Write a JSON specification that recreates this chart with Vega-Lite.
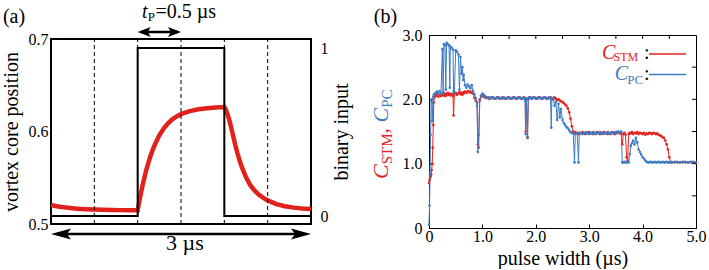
{
  "$schema": "https://vega.github.io/schema/vega-lite/v6.json",
  "padding": {"left": 0, "top": 1, "right": 0, "bottom": 0},
  "spacing": 118,
  "bounds": "flush",
  "center": true,
  "config": {
    "font": "Liberation Serif",
    "view": {"stroke": "black", "strokeWidth": 1},
    "axis": {"labelFont": "Liberation Serif", "labelFontSize": 16, "labelColor": "black", "titleFont": "Liberation Serif", "titleFontSize": 20, "titleFontWeight": "normal", "titleColor": "black", "grid": false, "tickColor": "black", "domainColor": "black"},
    "text": {"font": "Liberation Serif", "color": "black"}
  },
  "datasets": {
    "a_curve": [
      {"t":0,"v":0.5205},{"t":0.05,"v":0.5195},{"t":0.1,"v":0.5187},{"t":0.15,"v":0.518},{"t":0.2,"v":0.5175},{"t":0.25,"v":0.517},{"t":0.3,"v":0.5166},{"t":0.4,"v":0.516},{"t":0.5,"v":0.5156},{"t":0.6,"v":0.5153},{"t":0.7,"v":0.5151},{"t":0.8,"v":0.515},{"t":0.9,"v":0.5149},{"t":1.0,"v":0.5148},
      {"t":1.02,"v":0.525},{"t":1.04,"v":0.5345},{"t":1.06,"v":0.5432},{"t":1.08,"v":0.5512},{"t":1.1,"v":0.5585},{"t":1.125,"v":0.5667},{"t":1.15,"v":0.574},{"t":1.175,"v":0.5805},{"t":1.2,"v":0.5862},{"t":1.25,"v":0.5958},{"t":1.3,"v":0.6032},{"t":1.35,"v":0.6088},{"t":1.4,"v":0.6131},{"t":1.45,"v":0.6163},{"t":1.5,"v":0.6188},{"t":1.6,"v":0.622},{"t":1.7,"v":0.624},{"t":1.8,"v":0.6252},{"t":1.9,"v":0.626},{"t":2.0,"v":0.6265},
      {"t":2.02,"v":0.623},{"t":2.04,"v":0.618},{"t":2.06,"v":0.6115},{"t":2.08,"v":0.604},{"t":2.1,"v":0.596},{"t":2.125,"v":0.586},{"t":2.15,"v":0.577},{"t":2.175,"v":0.569},{"t":2.2,"v":0.562},{"t":2.25,"v":0.5505},{"t":2.3,"v":0.542},{"t":2.35,"v":0.536},{"t":2.4,"v":0.5315},{"t":2.45,"v":0.5282},{"t":2.5,"v":0.5255},{"t":2.6,"v":0.5215},{"t":2.7,"v":0.5192},{"t":2.8,"v":0.5177},{"t":2.9,"v":0.5168},{"t":3.0,"v":0.5162}
    ],
    "a_step": [
      {"i":0,"t":0,"b":0},{"i":1,"t":1,"b":0},{"i":2,"t":1,"b":1},{"i":3,"t":2,"b":1},{"i":4,"t":2,"b":0},{"i":5,"t":3,"b":0}
    ],
    "a_dash": [{"t":0.5},{"t":1.0},{"t":1.5},{"t":2.0},{"t":2.5}],
    "b_xt": [{"t":0.5},{"t":1.0},{"t":1.5},{"t":2.0},{"t":2.5},{"t":3.0},{"t":3.5},{"t":4.0},{"t":4.5}],
    "b_yt": [{"c":0.5},{"c":1.0},{"c":1.5},{"c":2.0},{"c":2.5}],
    "b": [
      {"t":0,"s":0.70,"p":0.05},{"t":0.01,"s":0.74,"p":0.35},{"t":0.02,"s":0.77,"p":0.85},{"t":0.03,"s":0.80,"p":1.45},{"t":0.04,"s":0.83,"p":1.98},{"t":0.05,"s":0.90,"p":2.00},{"t":0.06,"s":1.00,"p":1.66},{"t":0.07,"s":1.25,"p":1.95},{"t":0.08,"s":1.60,"p":2.04},{"t":0.09,"s":1.95,"p":2.07},
      {"t":0.1,"s":2.03,"p":2.08},{"t":0.125,"s":2.05,"p":2.10},{"t":0.15,"s":2.08,"p":2.12},{"t":0.175,"s":2.04,"p":2.10},{"t":0.2,"s":2.07,"p":2.13},{"t":0.225,"s":2.05,"p":2.08},{"t":0.25,"s":2.09,"p":2.78},{"t":0.265,"s":2.06,"p":2.10},{"t":0.28,"s":2.10,"p":2.86},{"t":0.3,"s":2.05,"p":2.84},
      {"t":0.315,"s":2.08,"p":2.15},{"t":0.33,"s":2.06,"p":2.88},{"t":0.35,"s":2.10,"p":2.86},{"t":0.375,"s":2.07,"p":2.84},{"t":0.39,"s":2.09,"p":2.18},{"t":0.4,"s":2.06,"p":2.82},{"t":0.425,"s":2.08,"p":2.80},{"t":0.45,"s":2.05,"p":2.77},{"t":0.46,"s":1.75,"p":2.12},{"t":0.475,"s":2.08,"p":2.10},
      {"t":0.5,"s":2.10,"p":2.76},{"t":0.525,"s":2.07,"p":2.74},{"t":0.55,"s":2.09,"p":2.70},{"t":0.57,"s":2.11,"p":2.15},{"t":0.59,"s":2.08,"p":2.66},{"t":0.61,"s":2.10,"p":2.40},{"t":0.625,"s":2.07,"p":2.50},{"t":0.64,"s":2.11,"p":2.30},{"t":0.65,"s":2.09,"p":2.38},{"t":0.675,"s":2.12,"p":2.22},
      {"t":0.7,"s":2.10,"p":2.18},{"t":0.725,"s":2.13,"p":2.23},{"t":0.75,"s":2.11,"p":2.20},{"t":0.775,"s":2.12,"p":2.17},{"t":0.8,"s":2.10,"p":2.22},{"t":0.825,"s":2.09,"p":2.13},{"t":0.85,"s":2.02,"p":2.08},{"t":0.875,"s":1.98,"p":2.02},{"t":0.9,"s":1.95,"p":1.90},{"t":0.915,"s":1.30,"p":1.18},
      {"t":0.93,"s":1.25,"p":1.45},{"t":0.95,"s":1.98,"p":2.00},{"t":0.975,"s":2.04,"p":2.06},{"t":1.0,"s":2.06,"p":2.09},{"t":1.025,"s":2.04,"p":2.07},{"t":1.05,"s":2.03,"p":2.05},{"t":1.075,"s":2.02,"p":2.03},{"t":1.1,"s":2.03,"p":2.02},{"t":1.125,"s":2.01,"p":2.03},{"t":1.15,"s":2.02,"p":2.01},
      {"t":1.175,"s":2.03,"p":2.02},{"t":1.2,"s":2.02,"p":2.03},{"t":1.225,"s":2.01,"p":2.02},{"t":1.25,"s":2.02,"p":2.01},{"t":1.275,"s":2.03,"p":2.02},{"t":1.3,"s":2.02,"p":2.03},{"t":1.325,"s":2.01,"p":2.02},{"t":1.35,"s":2.02,"p":2.02},{"t":1.375,"s":2.03,"p":2.01},{"t":1.4,"s":2.02,"p":2.03},
      {"t":1.425,"s":2.01,"p":2.02},{"t":1.45,"s":2.02,"p":2.01},{"t":1.475,"s":2.03,"p":2.02},{"t":1.5,"s":2.02,"p":2.03},{"t":1.525,"s":2.01,"p":2.02},{"t":1.55,"s":2.02,"p":2.01},{"t":1.575,"s":2.03,"p":2.02},{"t":1.6,"s":2.02,"p":2.03},{"t":1.625,"s":2.01,"p":2.02},{"t":1.65,"s":2.02,"p":2.01},
      {"t":1.675,"s":2.03,"p":2.02},{"t":1.7,"s":2.02,"p":2.03},{"t":1.725,"s":2.01,"p":2.02},{"t":1.75,"s":2.02,"p":2.01},{"t":1.775,"s":2.03,"p":2.02},{"t":1.8,"s":2.02,"p":1.98},{"t":1.81,"s":1.50,"p":1.46},{"t":1.825,"s":2.00,"p":2.01},{"t":1.845,"s":1.40,"p":1.42},{"t":1.86,"s":2.00,"p":2.02},
      {"t":1.875,"s":2.02,"p":2.03},{"t":1.9,"s":2.03,"p":2.02},{"t":1.925,"s":2.01,"p":2.01},{"t":1.95,"s":2.02,"p":2.03},{"t":1.975,"s":2.03,"p":2.02},{"t":2.0,"s":2.02,"p":2.01},{"t":2.025,"s":2.01,"p":2.02},{"t":2.05,"s":2.02,"p":2.03},{"t":2.075,"s":2.03,"p":2.02},{"t":2.1,"s":2.02,"p":2.01},
      {"t":2.125,"s":2.01,"p":2.02},{"t":2.15,"s":2.02,"p":2.03},{"t":2.175,"s":2.03,"p":2.02},{"t":2.2,"s":2.02,"p":2.01},{"t":2.225,"s":2.01,"p":2.02},{"t":2.25,"s":2.02,"p":2.03},{"t":2.275,"s":2.03,"p":2.02},{"t":2.29,"s":2.01,"p":1.56},{"t":2.3,"s":2.02,"p":2.00},{"t":2.325,"s":2.00,"p":2.02},
      {"t":2.35,"s":2.03,"p":1.90},{"t":2.375,"s":2.01,"p":1.96},{"t":2.4,"s":1.99,"p":1.68},{"t":2.425,"s":2.00,"p":1.93},{"t":2.45,"s":1.98,"p":1.72},{"t":2.47,"s":1.97,"p":1.85},{"t":2.5,"s":1.96,"p":1.68},{"t":2.525,"s":1.94,"p":1.63},{"t":2.55,"s":1.92,"p":1.60},{"t":2.575,"s":1.90,"p":1.57},
      {"t":2.6,"s":1.86,"p":1.55},{"t":2.625,"s":1.80,"p":1.52},{"t":2.65,"s":1.70,"p":1.49},{"t":2.675,"s":1.58,"p":1.48},{"t":2.7,"s":1.50,"p":1.47},{"t":2.725,"s":1.47,"p":1.02},{"t":2.74,"s":1.49,"p":1.46},{"t":2.775,"s":1.48,"p":1.47},{"t":2.8,"s":1.46,"p":1.02},{"t":2.815,"s":1.48,"p":1.47},
      {"t":2.85,"s":1.47,"p":1.48},{"t":2.875,"s":1.49,"p":1.46},{"t":2.9,"s":1.48,"p":1.47},{"t":2.925,"s":1.46,"p":1.48},{"t":2.95,"s":1.47,"p":1.49},{"t":2.975,"s":1.48,"p":1.47},{"t":3.0,"s":1.49,"p":1.46},{"t":3.025,"s":1.47,"p":1.48},{"t":3.05,"s":1.48,"p":1.47},{"t":3.075,"s":1.46,"p":1.49},
      {"t":3.1,"s":1.48,"p":1.47},{"t":3.125,"s":1.47,"p":1.46},{"t":3.15,"s":1.49,"p":1.48},{"t":3.175,"s":1.48,"p":1.47},{"t":3.2,"s":1.46,"p":1.49},{"t":3.225,"s":1.47,"p":1.48},{"t":3.25,"s":1.48,"p":1.46},{"t":3.275,"s":1.49,"p":1.47},{"t":3.3,"s":1.47,"p":1.48},{"t":3.325,"s":1.48,"p":1.47},
      {"t":3.35,"s":1.46,"p":1.49},{"t":3.375,"s":1.48,"p":1.47},{"t":3.4,"s":1.47,"p":1.46},{"t":3.425,"s":1.49,"p":1.48},{"t":3.45,"s":1.48,"p":1.47},{"t":3.475,"s":1.46,"p":1.49},{"t":3.5,"s":1.47,"p":1.48},{"t":3.525,"s":1.48,"p":1.50},{"t":3.55,"s":1.49,"p":1.48},{"t":3.575,"s":1.47,"p":1.49},
      {"t":3.6,"s":1.47,"p":1.50},{"t":3.62,"s":1.30,"p":1.02},{"t":3.64,"s":1.46,"p":1.02},{"t":3.66,"s":1.48,"p":1.03},{"t":3.68,"s":1.45,"p":1.02},{"t":3.7,"s":1.10,"p":1.02},{"t":3.72,"s":1.05,"p":1.03},{"t":3.74,"s":1.46,"p":1.02},{"t":3.76,"s":1.48,"p":1.15},{"t":3.78,"s":1.47,"p":1.28},
      {"t":3.8,"s":1.49,"p":1.32},{"t":3.825,"s":1.46,"p":1.36},{"t":3.85,"s":1.48,"p":1.30},{"t":3.875,"s":1.47,"p":1.40},{"t":3.9,"s":1.49,"p":1.33},{"t":3.925,"s":1.46,"p":1.22},{"t":3.95,"s":1.48,"p":1.18},{"t":3.975,"s":1.47,"p":1.14},{"t":4.0,"s":1.46,"p":1.10},{"t":4.025,"s":1.48,"p":1.08},
      {"t":4.05,"s":1.45,"p":1.05},{"t":4.075,"s":1.47,"p":1.03},{"t":4.1,"s":1.46,"p":1.02},{"t":4.125,"s":1.48,"p":1.02},{"t":4.15,"s":1.47,"p":1.03},{"t":4.175,"s":1.46,"p":1.02},{"t":4.2,"s":1.48,"p":1.02},{"t":4.225,"s":1.47,"p":1.03},{"t":4.25,"s":1.46,"p":1.02},{"t":4.275,"s":1.47,"p":1.02},
      {"t":4.3,"s":1.45,"p":1.03},{"t":4.325,"s":1.44,"p":1.02},{"t":4.35,"s":1.43,"p":1.02},{"t":4.375,"s":1.41,"p":1.03},{"t":4.4,"s":1.40,"p":1.02},{"t":4.425,"s":1.36,"p":1.02},{"t":4.45,"s":1.30,"p":1.03},{"t":4.475,"s":1.22,"p":1.02},{"t":4.5,"s":1.10,"p":1.02},{"t":4.525,"s":1.02,"p":1.03},
      {"t":4.55,"s":1.02,"p":1.02},{"t":4.6,"s":1.03,"p":1.02},{"t":4.65,"s":1.02,"p":1.03},{"t":4.7,"s":1.02,"p":1.02},{"t":4.75,"s":1.03,"p":1.02},{"t":4.8,"s":1.02,"p":1.03},{"t":4.85,"s":1.02,"p":1.02},{"t":4.9,"s":1.03,"p":1.02},{"t":4.95,"s":1.02,"p":1.03},{"t":5.0,"s":1.02,"p":1.02}
    ]
  },
  "hconcat": [
    {
      "width": 260,
      "height": 185,
      "view": {"stroke": "black", "strokeWidth": 2},
      "layer": [
        {
          "layer": [
            {
              "data": {"name": "a_curve"},
              "mark": {"type": "line", "color": "#e3211c", "strokeWidth": 4.5},
              "encoding": {
                "x": {"field": "t", "type": "quantitative", "scale": {"domain": [0, 3], "nice": false}, "axis": null},
                "y": {"field": "v", "type": "quantitative", "scale": {"domain": [0.5, 0.7], "nice": false, "zero": false},
                  "axis": {"orient": "left", "values": [0.5, 0.6, 0.7], "format": ".1f", "ticks": false, "domain": false, "labelPadding": 3, "title": "vortex core position", "titlePadding": 7}}
              }
            },
            {
              "data": {"name": "a_dash"},
              "mark": {"type": "rule", "color": "black", "strokeWidth": 1, "strokeDash": [4, 3]},
              "encoding": {
                "x": {"field": "t", "type": "quantitative", "scale": {"domain": [0, 3], "nice": false}, "axis": null},
                "y": {"datum": 0.5, "type": "quantitative", "scale": {"domain": [0.5, 0.7], "nice": false, "zero": false}},
                "y2": {"datum": 0.7}
              }
            },
            {
              "data": {"values": [{}]},
              "mark": {"type": "text", "fontSize": 20, "align": "center", "baseline": "alphabetic", "text": "(a)"},
              "encoding": {
                "x": {"datum": -0.4269, "type": "quantitative", "scale": {"domain": [0, 3], "nice": false}, "axis": null},
                "y": {"datum": 0.7173, "type": "quantitative", "scale": {"domain": [0.5, 0.7], "nice": false, "zero": false}}
              }
            },
            {
              "data": {"values": [{}]},
              "mark": {"type": "text", "fontSize": 20, "fontStyle": "italic", "align": "left", "baseline": "alphabetic", "text": "t"},
              "encoding": {
                "x": {"datum": 1.05, "type": "quantitative", "scale": {"domain": [0, 3], "nice": false}, "axis": null},
                "y": {"datum": 0.7227, "type": "quantitative", "scale": {"domain": [0.5, 0.7], "nice": false, "zero": false}}
              }
            },
            {
              "data": {"values": [{}]},
              "mark": {"type": "text", "fontSize": 13, "align": "left", "baseline": "alphabetic", "text": "P"},
              "encoding": {
                "x": {"datum": 1.1169, "type": "quantitative", "scale": {"domain": [0, 3], "nice": false}, "axis": null},
                "y": {"datum": 0.71946, "type": "quantitative", "scale": {"domain": [0.5, 0.7], "nice": false, "zero": false}}
              }
            },
            {
              "data": {"values": [{}]},
              "mark": {"type": "text", "fontSize": 20, "align": "left", "baseline": "alphabetic", "text": "=0.5 µs"},
              "encoding": {
                "x": {"datum": 1.2057, "type": "quantitative", "scale": {"domain": [0, 3], "nice": false}, "axis": null},
                "y": {"datum": 0.7227, "type": "quantitative", "scale": {"domain": [0.5, 0.7], "nice": false, "zero": false}}
              }
            },
            {
              "data": {"values": [{}]},
              "mark": {"type": "rule", "color": "black", "strokeWidth": 2.5},
              "encoding": {
                "x": {"datum": 1.04, "type": "quantitative", "scale": {"domain": [0, 3], "nice": false}, "axis": null},
                "x2": {"datum": 1.46},
                "y": {"datum": 0.70757, "type": "quantitative", "scale": {"domain": [0.5, 0.7], "nice": false, "zero": false}}
              }
            },
            {
              "data": {"values": [{}]},
              "mark": {"type": "point", "shape": "M0,0L1,-0.38L0.78,0L1,0.38Z", "filled": true, "opacity": 1, "color": "black", "size": 676},
              "encoding": {
                "x": {"datum": 1.0, "type": "quantitative", "scale": {"domain": [0, 3], "nice": false}, "axis": null},
                "y": {"datum": 0.70757, "type": "quantitative", "scale": {"domain": [0.5, 0.7], "nice": false, "zero": false}}
              }
            },
            {
              "data": {"values": [{}]},
              "mark": {"type": "point", "shape": "M0,0L-1,-0.38L-0.78,0L-1,0.38Z", "filled": true, "opacity": 1, "color": "black", "size": 676},
              "encoding": {
                "x": {"datum": 1.5, "type": "quantitative", "scale": {"domain": [0, 3], "nice": false}, "axis": null},
                "y": {"datum": 0.70757, "type": "quantitative", "scale": {"domain": [0.5, 0.7], "nice": false, "zero": false}}
              }
            },
            {
              "data": {"values": [{}]},
              "mark": {"type": "rule", "color": "black", "strokeWidth": 2.5},
              "encoding": {
                "x": {"datum": 0.1, "type": "quantitative", "scale": {"domain": [0, 3], "nice": false}, "axis": null},
                "x2": {"datum": 2.9},
                "y": {"datum": 0.489189, "type": "quantitative", "scale": {"domain": [0.5, 0.7], "nice": false, "zero": false}}
              }
            },
            {
              "data": {"values": [{}]},
              "mark": {"type": "point", "shape": "M0,0L1,-0.28L0.8,0L1,0.28Z", "filled": true, "opacity": 1, "color": "black", "size": 1600},
              "encoding": {
                "x": {"datum": 0, "type": "quantitative", "scale": {"domain": [0, 3], "nice": false}, "axis": null},
                "y": {"datum": 0.489189, "type": "quantitative", "scale": {"domain": [0.5, 0.7], "nice": false, "zero": false}}
              }
            },
            {
              "data": {"values": [{}]},
              "mark": {"type": "point", "shape": "M0,0L-1,-0.28L-0.8,0L-1,0.28Z", "filled": true, "opacity": 1, "color": "black", "size": 1600},
              "encoding": {
                "x": {"datum": 3, "type": "quantitative", "scale": {"domain": [0, 3], "nice": false}, "axis": null},
                "y": {"datum": 0.489189, "type": "quantitative", "scale": {"domain": [0.5, 0.7], "nice": false, "zero": false}}
              }
            },
            {
              "data": {"values": [{}]},
              "mark": {"type": "text", "fontSize": 22, "align": "center", "baseline": "alphabetic", "text": "3 µs"},
              "encoding": {
                "x": {"datum": 1.546, "type": "quantitative", "scale": {"domain": [0, 3], "nice": false}, "axis": null},
                "y": {"datum": 0.47189, "type": "quantitative", "scale": {"domain": [0.5, 0.7], "nice": false, "zero": false}}
              }
            }
          ]
        },
        {
          "data": {"name": "a_step"},
          "mark": {"type": "line", "color": "black", "strokeWidth": 2},
          "encoding": {
            "x": {"field": "t", "type": "quantitative", "scale": {"domain": [0, 3], "nice": false}, "axis": null},
            "y": {"field": "b", "type": "quantitative", "scale": {"domain": [-0.0476, 1.0536], "nice": false, "zero": false},
              "axis": {"orient": "right", "values": [0, 1], "format": ".0f", "ticks": false, "domain": false, "labelPadding": 9, "title": "binary input", "titleAngle": 270, "titleBaseline": "top", "titlePadding": 3}},
            "order": {"field": "i", "type": "quantitative"}
          }
        }
      ],
      "resolve": {"scale": {"y": "independent"}}
    },
    {
      "width": 267,
      "height": 193,
      "view": {"stroke": "black", "strokeWidth": 1},
      "layer": [
        {
          "data": {"name": "b"},
          "mark": {"type": "line", "color": "#e4231e", "strokeWidth": 1, "point": {"filled": true, "size": 7, "color": "#e4231e"}},
          "encoding": {
            "x": {"field": "t", "type": "quantitative", "scale": {"domain": [0, 5], "nice": false},
              "axis": {"orient": "bottom", "values": [0, 0.5, 1, 1.5, 2, 2.5, 3, 3.5, 4, 4.5, 5], "labelExpr": "datum.value == 0 ? '0' : (datum.value % 1 == 0 ? format(datum.value, '.1f') : '')", "tickSize": -4, "labelPadding": 4, "labelFlush": false, "title": "pulse width (µs)", "titlePadding": 4}},
            "y": {"field": "s", "type": "quantitative", "scale": {"domain": [0, 3], "nice": false},
              "axis": {"orient": "left", "values": [0, 0.5, 1, 1.5, 2, 2.5, 3], "labelExpr": "datum.value == 0 ? '0' : format(datum.value, '.1f')", "tickSize": -4, "labelPadding": 11, "title": null}}
          }
        },
        {
          "data": {"name": "b"},
          "mark": {"type": "line", "color": "#3d7cc4", "strokeWidth": 1, "point": {"filled": true, "size": 7, "color": "#3d7cc4"}},
          "encoding": {
            "x": {"field": "t", "type": "quantitative", "scale": {"domain": [0, 5], "nice": false}},
            "y": {"field": "p", "type": "quantitative", "scale": {"domain": [0, 3], "nice": false}}
          }
        },
        {
          "data": {"name": "b_xt"},
          "mark": {"type": "rule", "color": "black", "strokeWidth": 1},
          "encoding": {
            "x": {"field": "t", "type": "quantitative", "scale": {"domain": [0, 5], "nice": false}},
            "y": {"datum": 3, "type": "quantitative", "scale": {"domain": [0, 3], "nice": false}},
            "y2": {"datum": 2.9378}
          }
        },
        {
          "data": {"name": "b_yt"},
          "mark": {"type": "rule", "color": "black", "strokeWidth": 1},
          "encoding": {
            "y": {"field": "c", "type": "quantitative", "scale": {"domain": [0, 3], "nice": false}},
            "x": {"datum": 5, "type": "quantitative", "scale": {"domain": [0, 5], "nice": false}},
            "x2": {"datum": 4.925}
          }
        },
        {
          "data": {"values": [{}]},
          "mark": {"type": "rule", "color": "#e4231e", "strokeWidth": 1.5},
          "encoding": {
            "x": {"datum": 4.12, "type": "quantitative", "scale": {"domain": [0, 5], "nice": false}},
            "x2": {"datum": 4.813},
            "y": {"datum": 2.7047, "type": "quantitative", "scale": {"domain": [0, 3], "nice": false}}
          }
        },
        {
          "data": {"values": [{}]},
          "mark": {"type": "rule", "color": "#3d7cc4", "strokeWidth": 1.5},
          "encoding": {
            "x": {"datum": 4.12, "type": "quantitative", "scale": {"domain": [0, 5], "nice": false}},
            "x2": {"datum": 4.813},
            "y": {"datum": 2.386, "type": "quantitative", "scale": {"domain": [0, 3], "nice": false}}
          }
        },
        {
          "data": {"values": [{}]},
          "mark": {"type": "text", "fontSize": 20, "fontStyle": "italic", "align": "left", "baseline": "alphabetic", "color": "#e4231e", "text": "C"},
          "encoding": {
            "x": {"datum": 3.2397, "type": "quantitative", "scale": {"domain": [0, 5], "nice": false}},
            "y": {"datum": 2.627, "type": "quantitative", "scale": {"domain": [0, 3], "nice": false}}
          }
        },
        {
          "data": {"values": [{}]},
          "mark": {"type": "text", "fontSize": 12, "align": "left", "baseline": "alphabetic", "color": "#e4231e", "text": "STM"},
          "encoding": {
            "x": {"datum": 3.455, "type": "quantitative", "scale": {"domain": [0, 5], "nice": false}},
            "y": {"datum": 2.5881, "type": "quantitative", "scale": {"domain": [0, 3], "nice": false}}
          }
        },
        {
          "data": {"values": [{}]},
          "mark": {"type": "text", "fontSize": 20, "align": "left", "baseline": "alphabetic", "text": ":"},
          "encoding": {
            "x": {"datum": 4.0262, "type": "quantitative", "scale": {"domain": [0, 5], "nice": false}},
            "y": {"datum": 2.627, "type": "quantitative", "scale": {"domain": [0, 3], "nice": false}}
          }
        },
        {
          "data": {"values": [{}]},
          "mark": {"type": "text", "fontSize": 20, "fontStyle": "italic", "align": "left", "baseline": "alphabetic", "color": "#3d7cc4", "text": "C"},
          "encoding": {
            "x": {"datum": 3.4775, "type": "quantitative", "scale": {"domain": [0, 5], "nice": false}},
            "y": {"datum": 2.2928, "type": "quantitative", "scale": {"domain": [0, 3], "nice": false}}
          }
        },
        {
          "data": {"values": [{}]},
          "mark": {"type": "text", "fontSize": 13, "align": "left", "baseline": "alphabetic", "color": "#3d7cc4", "text": "PC"},
          "encoding": {
            "x": {"datum": 3.7135, "type": "quantitative", "scale": {"domain": [0, 5], "nice": false}},
            "y": {"datum": 2.2306, "type": "quantitative", "scale": {"domain": [0, 3], "nice": false}}
          }
        },
        {
          "data": {"values": [{}]},
          "mark": {"type": "text", "fontSize": 20, "align": "left", "baseline": "alphabetic", "text": ":"},
          "encoding": {
            "x": {"datum": 4.0262, "type": "quantitative", "scale": {"domain": [0, 5], "nice": false}},
            "y": {"datum": 2.2928, "type": "quantitative", "scale": {"domain": [0, 3], "nice": false}}
          }
        },
        {
          "data": {"values": [{}]},
          "mark": {"type": "text", "fontSize": 22, "fontStyle": "italic", "angle": 270, "align": "left", "baseline": "alphabetic", "color": "#e4231e", "text": "C"},
          "encoding": {
            "x": {"datum": -0.7678, "type": "quantitative", "scale": {"domain": [0, 5], "nice": false}},
            "y": {"datum": 0.7617, "type": "quantitative", "scale": {"domain": [0, 3], "nice": false}}
          }
        },
        {
          "data": {"values": [{}]},
          "mark": {"type": "text", "fontSize": 15, "angle": 270, "align": "left", "baseline": "alphabetic", "color": "#e4231e", "text": "STM"},
          "encoding": {
            "x": {"datum": -0.6929, "type": "quantitative", "scale": {"domain": [0, 5], "nice": false}},
            "y": {"datum": 0.9902, "type": "quantitative", "scale": {"domain": [0, 3], "nice": false}}
          }
        },
        {
          "data": {"values": [{}]},
          "mark": {"type": "text", "fontSize": 22, "angle": 270, "align": "left", "baseline": "alphabetic", "color": "#e4231e", "text": ","},
          "encoding": {
            "x": {"datum": -0.7678, "type": "quantitative", "scale": {"domain": [0, 5], "nice": false}},
            "y": {"datum": 1.469, "type": "quantitative", "scale": {"domain": [0, 3], "nice": false}}
          }
        },
        {
          "data": {"values": [{}]},
          "mark": {"type": "text", "fontSize": 22, "fontStyle": "italic", "angle": 270, "align": "left", "baseline": "alphabetic", "color": "#3d7cc4", "text": "C"},
          "encoding": {
            "x": {"datum": -0.7678, "type": "quantitative", "scale": {"domain": [0, 5], "nice": false}},
            "y": {"datum": 1.64, "type": "quantitative", "scale": {"domain": [0, 3], "nice": false}}
          }
        },
        {
          "data": {"values": [{}]},
          "mark": {"type": "text", "fontSize": 15, "angle": 270, "align": "left", "baseline": "alphabetic", "color": "#3d7cc4", "text": "PC"},
          "encoding": {
            "x": {"datum": -0.6929, "type": "quantitative", "scale": {"domain": [0, 5], "nice": false}},
            "y": {"datum": 1.8685, "type": "quantitative", "scale": {"domain": [0, 3], "nice": false}}
          }
        },
        {
          "data": {"values": [{}]},
          "mark": {"type": "text", "fontSize": 20, "align": "center", "baseline": "alphabetic", "text": "(b)"},
          "encoding": {
            "x": {"datum": -0.8146, "type": "quantitative", "scale": {"domain": [0, 5], "nice": false}},
            "y": {"datum": 3.1866, "type": "quantitative", "scale": {"domain": [0, 3], "nice": false}}
          }
        }
      ]
    }
  ]
}
